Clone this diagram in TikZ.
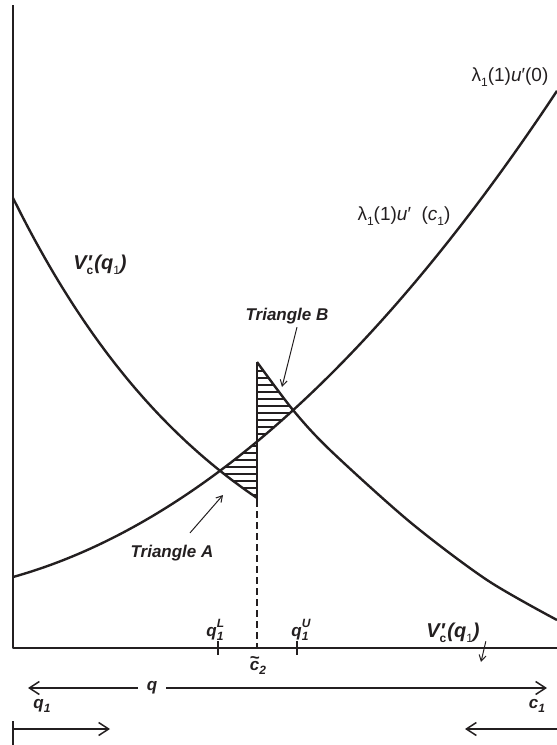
\documentclass[tikz,border=0pt]{standalone}
\usepackage{fontspec}
\setmainfont{Liberation Sans}
\usetikzlibrary{positioning, arrows.meta}
\definecolor{inkblack}{HTML}{231F20}

\newcommand{\rising}[1]{-(580.44-0.25*#1-0.001132*#1*#1)}
\newcommand{\falling}[1]{-(648-450*exp(-0.0045*(#1-13)))}
\newcommand{\lowidx}[1]{\raisebox{-0.28em}{\fontsize{12}{12}\selectfont #1}}
\newcommand{\subsup}[2]{\rlap{\raisebox{0.5em}{\fontsize{12}{12}\selectfont #2}}\lowidx{#1}}
\newcommand{\Vcq}{V\rlap{\kern0.5pt\char"2032}\lowidx{\upshape c}\kern1pt(q\lowidx{\upshape\mdseries 1})}
\newcommand{\ctil}{\ooalign{c\cr\hidewidth\raisebox{0.38em}{\char"7E}\hidewidth\cr}}

\begin{document}
\begin{tikzpicture}[x=1pt, y=1pt, draw=inkblack, text=inkblack, line join=round,
    curve/.style={line width=2.4pt},
    axis/.style={line width=2pt},
    hatch/.style={line width=1.5pt},
    lbl/.style={font=\fontsize{17}{17}\selectfont\bfseries\itshape, inner sep=0pt},
    vlbl/.style={font=\fontsize{20}{20}\selectfont\bfseries\itshape, inner sep=0pt},
    fn/.style={font=\fontsize{19}{19}\selectfont, inner sep=0pt},
    span/.style={line width=1.5pt, -{Straight Barb[length=10pt, width=13pt]}},
    pointer/.style={line width=1pt, -{Straight Barb[length=6pt, width=7pt]}}]
  \useasboundingbox (0,0) rectangle (557,-745);

  \coordinate (top) at (13,-5);
  \coordinate (origin) at (13,-648);
  \coordinate (right) at (557,-648);
  \draw[axis] (top) -- (origin) -- (right);

  \begin{scope}
    \clip plot[domain=180:257, samples=40] (\x, {\rising{\x}}) -- (257,-700) -- (180,-700) -- cycle;
    \clip plot[domain=180:257, samples=40] (\x, {\falling{\x}}) -- (257,0) -- (180,0) -- cycle;
    \foreach \y in {362,369,...,505}
      \draw[hatch] (180,-\y) -- (257,-\y);
  \end{scope}
  \begin{scope}
    \clip plot[domain=257:340, samples=40] (\x, {\rising{\x}}) -- (340,0) -- (257,0) -- cycle;
    \clip plot[smooth] coordinates {(257,-362) (293,-410) (330,-450) (410,-522) (487,-580) (557,-620)}
      -- (557,-745) -- (257,-745) -- cycle;
    \foreach \y in {364,371,...,445}
      \draw[hatch] (257,-\y) -- (340,-\y);
  \end{scope}

  \draw[curve] plot[domain=13:557, samples=100] (\x, {\rising{\x}});
  \draw[curve] plot[domain=13:257, samples=80] (\x, {\falling{\x}});
  \draw[curve] plot[smooth] coordinates {(257,-362) (293,-410) (330,-450) (410,-522) (487,-580) (557,-620)};

  \coordinate (cutTop) at (257,-362);
  \coordinate (cutMid) at (257,-500);
  \coordinate (cutBot) at (257,-648);
  \draw[line width=1.8pt] (cutTop) -- (cutMid);
  \draw[line width=1.5pt, dash pattern=on 7pt off 4pt] (cutMid) -- (cutBot);

  \coordinate (qLow) at (218,-648);
  \coordinate (qUp) at (297,-648);
  \draw[line width=1.5pt] ([yshift=7pt]qLow) -- ([yshift=-7pt]qLow);
  \draw[line width=1.5pt] ([yshift=7pt]qUp) -- ([yshift=-7pt]qUp);
  \node[lbl] (qLowLbl) at (215,-630) {q\subsup{1}{L}};
  \node[lbl] (qUpLbl) at (300,-630) {q\subsup{1}{U}};
  \node[lbl] (ctilde) at (258,-668) {\ctil\lowidx{2}};

  \node[fn] (uZero) at (510,-77) {λ\lowidx{1}(1)\textit{u}\char"2032(0)};
  \node[fn] (uCone) at (404,-216) {λ\lowidx{1}(1)\textit{u}\char"2032\ \ (\textit{c}\lowidx{1})};
  \node[vlbl] (VcLeft) at (100,-265) {\Vcq};
  \node[vlbl] (VcRight) at (453,-633) {\Vcq};
  \coordinate (tipV) at (481,-662);
  \draw[pointer] ([xshift=6pt,yshift=2pt]VcRight.south east) -- (tipV);

  \node[lbl] (triB) at (287,-316) {Triangle B};
  \coordinate (tipB) at (282,-387);
  \draw[pointer] ([xshift=10pt,yshift=-3pt]triB.south) -- (tipB);
  \node[lbl] (triA) at (172,-553) {Triangle A};
  \coordinate (tipA) at (223,-495);
  \draw[pointer] ([shift={(18pt,12pt)}]triA.north) -- (tipA);

  \node[lbl, inner xsep=9pt] (qq) at (152,-688) {q};
  \coordinate (spanL) at (28,-688);
  \coordinate (spanR) at (547,-688);
  \draw[span] (qq) -- (spanL);
  \draw[span] (qq) -- (spanR);

  \node[lbl] (qOne) at (42,-706) {q\lowidx{1}};
  \coordinate (qStart) at (13,-729);
  \coordinate (qEnd) at (110,-729);
  \draw[axis] (13,-721) -- (13,-745);
  \draw[span] (qStart) -- (qEnd);
  \node[lbl] (cOne) at (537,-706) {c\lowidx{1}};
  \coordinate (cStart) at (557,-729);
  \coordinate (cEnd) at (465,-729);
  \draw[span] (cStart) -- (cEnd);
\end{tikzpicture}
\end{document}
